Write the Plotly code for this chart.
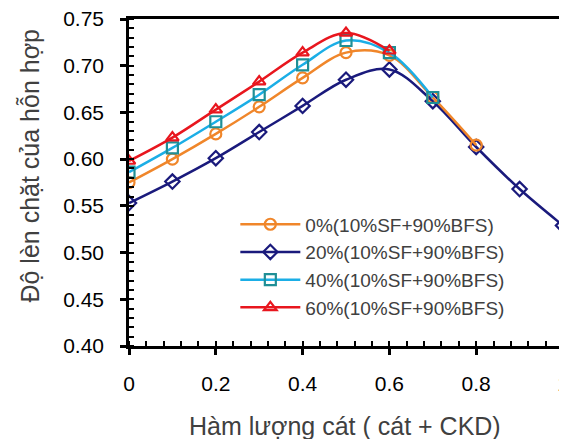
import plotly.graph_objects as go

# ---- data ----
x_vals = [0, 0.1, 0.2, 0.3, 0.4, 0.5, 0.6, 0.7, 0.8, 0.9, 1.0]

names = ["0%(10%SF+90%BFS)", "20%(10%SF+90%BFS)",
         "40%(10%SF+90%BFS)", "60%(10%SF+90%BFS)"]

y_0pct = [0.575, 0.600, 0.627, 0.656, 0.687, 0.714, 0.711, 0.666, 0.615]
y_20pct = [0.553, 0.576, 0.601, 0.629, 0.657, 0.685, 0.696, 0.662, 0.613, 0.568, 0.529]
y_40pct = [0.586, 0.612, 0.640, 0.669, 0.701, 0.727, 0.714, 0.666]
y_60pct = [0.598, 0.623, 0.653, 0.683, 0.714, 0.735, 0.716]

x_ticks = [0, 0.2, 0.4, 0.6, 0.8, 1]
x_tick_text = ["0", "0.2", "0.4", "0.6", "0.8", "1"]
y_ticks = [0.40, 0.45, 0.50, 0.55, 0.60, 0.65, 0.70, 0.75]

x_title = "Hàm lượng cát ( cát + CKD)"
y_title = "Độ lèn chặt của hỗn hợp"

# ---- styling ----
FONT = "Liberation Sans, Arial, sans-serif"
series = [
    (names[0], y_0pct, "#F0862A", "#F0862A", "circle-open"),
    (names[1], y_20pct, "#1A1A7C", "#1A1A7C", "diamond-open"),
    (names[2], y_40pct, "#1BAEE6", "#1F8F96", "square-open"),
    (names[3], y_60pct, "#E8161E", "#E8161E", "triangle-up-open"),
]

fig = go.Figure()
draw_order = [1, 0, 2, 3]
for i in draw_order:
    name, ys, lc, mc, sym = series[i]
    fig.add_trace(go.Scatter(
        x=x_vals[:len(ys)], y=ys, name=name, mode="lines+markers",
        line=dict(color=lc, width=2.5, shape="spline", smoothing=1.0),
        marker=dict(symbol=sym, size=11, color=mc, line=dict(color=mc, width=2.2)),
        legendrank=i + 1,
    ))

axis_common = dict(showgrid=False, zeroline=False, automargin=False)

# the page body adds an offset, so the figure is sized to fill the rest
fig.update_layout(
    width=559, height=431,
    margin=dict(l=121, r=4, t=11, b=93),
    plot_bgcolor="white", paper_bgcolor="white",
    font=dict(family=FONT, size=21, color="#000000"),
    showlegend=True,
    legend=dict(
        x=0.245, y=0.43, xanchor="left", yanchor="top",
        bgcolor="rgba(0,0,0,0)", borderwidth=0,
        font=dict(family=FONT, size=19, color="#404040"),
        tracegroupgap=0, itemwidth=60,
    ),
    xaxis=dict(
        **axis_common, range=[0, 1], tickvals=x_ticks, ticktext=x_tick_text,
        ticks="outside", ticklen=6, tickwidth=2.5, tickcolor="black",
        showline=True, linewidth=2.5, linecolor="black", mirror=True,
        minor=dict(dtick=0.04, tick0=0, ticks="inside", ticklen=5, tickwidth=2, tickcolor="black"),
        tickfont=dict(family=FONT, size=21, color="#000000"),
        ticklabelstandoff=11, ticklabeloverflow="allow",
    ),
    yaxis=dict(
        **axis_common, range=[0.40, 0.75], tickvals=y_ticks, tickformat=".2f",
        ticks="outside", ticklen=6, tickwidth=2.5, tickcolor="black",
        showline=True, linewidth=2.5, linecolor="black", mirror=True,
        minor=dict(dtick=0.01, tick0=0.40, ticks="inside", ticklen=5, tickwidth=2, tickcolor="black"),
        tickfont=dict(family=FONT, size=21, color="#000000"),
        ticklabelstandoff=12, ticklabeloverflow="allow",
    ),
    xaxis2=dict(
        **axis_common, range=[0, 1], overlaying="x", anchor="y", side="bottom",
        tickvals=x_ticks, showticklabels=False, ticks="inside", ticklen=6,
        tickwidth=2.5, tickcolor="black", showline=False,
    ),
    yaxis2=dict(
        **axis_common, range=[0.40, 0.75], overlaying="y", anchor="x", side="left",
        tickvals=y_ticks, showticklabels=False, ticks="inside", ticklen=6,
        tickwidth=2.5, tickcolor="black", showline=False,
    ),
    annotations=[
        dict(text=x_title, xref="paper", yref="paper", x=0.498, y=-0.245,
             xanchor="center", yanchor="middle", showarrow=False,
             font=dict(family=FONT, size=25, color="#404040")),
        dict(text=y_title, xref="paper", yref="paper", x=-0.228, y=0.552,
             xanchor="center", yanchor="middle", showarrow=False, textangle=-90,
             font=dict(family=FONT, size=25, color="#404040")),
    ],
)

fig.write_html("out.html")
